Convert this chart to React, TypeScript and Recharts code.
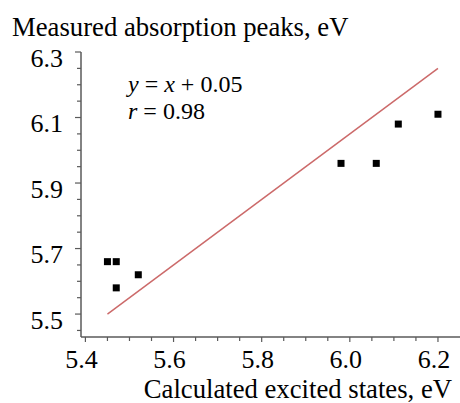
import { ScatterChart, Scatter, XAxis, YAxis } from 'recharts'

// measured points: calculated excited state (x) vs measured absorption peak (y), eV
const calcStates = [5.45, 5.47, 5.47, 5.52, 5.98, 6.06, 6.11, 6.2]
const measuredPeaks = [5.66, 5.66, 5.58, 5.62, 5.96, 5.96, 6.08, 6.11]

// fitted line y = x + 0.05, end points
const fitX = [5.45, 6.2]
const fitY = [5.5, 6.25]

const xTicks = [5.4, 5.45, 5.5, 5.55, 5.6, 5.65, 5.7, 5.75, 5.8, 5.85, 5.9, 5.95, 6.0, 6.05, 6.1, 6.15, 6.2]
const xMajor = [5.4, 5.6, 5.8, 6.0, 6.2]
const yTicks = [5.45, 5.5, 5.55, 5.6, 5.65, 5.7, 5.75, 5.8, 5.85, 5.9, 5.95, 6.0, 6.05, 6.1, 6.15, 6.2, 6.25, 6.3]
const yMajor = [5.5, 5.7, 5.9, 6.1, 6.3]

const points = calcStates.map((x, i) => ({ x, y: measuredPeaks[i] }))
const fitLine = fitX.map((x, i) => ({ x, y: fitY[i] }))

const FONT = '"Liberation Serif", "Times New Roman", serif'
const AXIS = '#5a5a5a'

const isIn = (list: number[], v: number) => list.some((m) => Math.abs(m - v) < 1e-6)

function XTick(props: any) {
  const { x, y, payload } = props
  const major = isIn(xMajor, payload.value)
  return (
    <g>
      <line x1={x} x2={x} y1={y} y2={y + (major ? 5 : 4)} stroke={AXIS} strokeWidth={1.2} />
      {major && (
        <text x={x - 4} y={y + 31} textAnchor="middle" fontFamily={FONT} fontSize={26} fill="#000">
          {payload.value.toFixed(1)}
        </text>
      )}
    </g>
  )
}

function YTick(props: any) {
  const { x, y, payload } = props
  const major = isIn(yMajor, payload.value)
  return (
    <g>
      <line x1={x} x2={x - (major ? 6 : 4)} y1={y} y2={y} stroke={AXIS} strokeWidth={1.2} />
      {major && (
        <text x={x - 18} y={y + 14.5} textAnchor="end" fontFamily={FONT} fontSize={26} fill="#000">
          {payload.value.toFixed(1)}
        </text>
      )}
    </g>
  )
}

const SquareDot = (props: any) => (
  <rect x={props.cx - 3.5} y={props.cy - 3.5} width={7} height={7} fill="#000" />
)

export default function App() {
  return (
    <div style={{ position: 'absolute', left: 0, top: 0, width: 460, height: 403, fontFamily: FONT }}>
      <div style={{ position: 'absolute', left: 12, top: 14, fontSize: 26.7, lineHeight: '26px', whiteSpace: 'nowrap' }}>
        Measured absorption peaks, eV
      </div>
      <div style={{ position: 'absolute', right: 8, top: 376, fontSize: 26.7, lineHeight: '26px', whiteSpace: 'nowrap' }}>
        Calculated excited states, eV
      </div>
      <div style={{ position: 'absolute', left: 128, top: 72, fontSize: 24, lineHeight: '24px', whiteSpace: 'nowrap' }}>
        <i>y</i> = <i>x</i> + 0.05
      </div>
      <div style={{ position: 'absolute', left: 128, top: 99, fontSize: 24, lineHeight: '24px', whiteSpace: 'nowrap' }}>
        <i>r</i> = 0.98
      </div>
      <ScatterChart width={460} height={403} margin={{ top: 52, right: 0, left: 0, bottom: 26 }}>
        <XAxis
          type="number"
          dataKey="x"
          domain={[5.39, 6.25]}
          ticks={xTicks}
          allowDataOverflow
          height={40}
          tickSize={0}
          tickMargin={0}
          tickLine={false}
          tick={<XTick />}
          axisLine={{ stroke: AXIS, strokeWidth: 1.5 }}
          interval={0}
        />
        <YAxis
          type="number"
          dataKey="y"
          domain={[5.43, 6.3]}
          ticks={yTicks}
          allowDataOverflow
          width={81}
          tickSize={0}
          tickMargin={0}
          tickLine={false}
          tick={<YTick />}
          axisLine={{ stroke: AXIS, strokeWidth: 1.5 }}
          interval={0}
        />
        <Scatter
          data={fitLine}
          line={{ stroke: '#cc6a6a', strokeWidth: 1.5 }}
          shape={() => null}
          isAnimationActive={false}
        />
        <Scatter data={points} shape={<SquareDot />} isAnimationActive={false} />
      </ScatterChart>
    </div>
  )
}
